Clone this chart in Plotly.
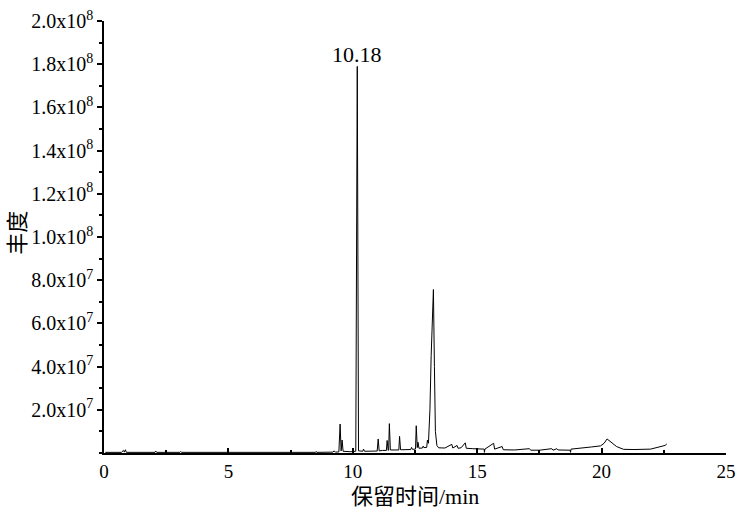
import plotly.graph_objects as go

# Retention time (min) and abundance (in units of 1e6 counts)
time_min = [0.05, 0.70, 0.78, 0.82, 0.86, 0.90, 2.05, 2.08, 2.12, 3.05, 3.08, 3.12,
            5.0, 8.5, 8.52, 8.56, 9.2, 9.25, 9.3, 9.44, 9.49, 9.53, 9.57, 9.61,
            9.9, 10.12, 10.18, 10.23, 10.4, 10.43, 10.47, 10.7, 10.98, 11.02, 11.06,
            11.2, 11.35, 11.38, 11.42, 11.44, 11.47, 11.51, 11.85, 11.88, 11.92,
            12.2, 12.33, 12.36, 12.40, 12.52, 12.55, 12.59, 12.62, 12.66, 12.8,
            12.83, 12.86, 12.97, 13.0, 13.04, 13.10, 13.15, 13.20, 13.24, 13.28,
            13.32, 13.38, 13.45, 13.7, 13.98, 14.02, 14.19, 14.23, 14.35, 14.52,
            14.56, 14.8, 14.99, 15.28, 15.29, 15.31, 15.66, 15.70, 16.0, 16.05,
            16.5, 17.1, 17.15, 17.5, 18.0, 18.05, 18.2, 18.25, 18.74, 18.75, 18.77,
            19.2, 19.6, 19.96, 20.1, 20.22, 20.4, 20.6, 20.88, 21.3, 21.97, 22.3,
            22.55, 22.62]
abundance_e6 = [0.3, 0.3, 1.2, 0.4, 1.5, 0.3, 0.3, 0.9, 0.3, 0.3, 0.7, 0.3,
                0.3, 0.3, 0.7, 0.3, 0.4, 1.0, 0.4, 0.5, 13.4, 1.0, 6.0, 0.8,
                0.6, 0.8, 179.0, 1.0, 0.8, 1.8, 0.8, 0.9, 0.9, 6.5, 1.0,
                1.2, 1.2, 5.8, 1.2, 1.3, 13.6, 1.4, 1.4, 7.7, 1.5,
                1.6, 1.6, 2.6, 1.7, 1.8, 12.6, 2.5, 5.0, 2.2, 2.3,
                3.2, 2.5, 2.6, 6.0, 4.5, 20.0, 45.0, 68.0, 75.7, 40.0,
                10.0, 3.5, 2.4, 2.3, 4.0, 2.3, 3.5, 2.2, 2.4, 4.7,
                2.2, 2.0, 1.8, 1.8, 0.3, 1.8, 4.5, 1.8, 3.0, 1.5,
                1.4, 2.0, 1.3, 1.3, 2.0, 1.3, 2.0, 1.4, 1.3, 0.3, 1.8,
                2.2, 2.8, 3.3, 4.5, 6.5, 4.8, 3.0, 1.7, 1.6, 1.8, 2.8,
                3.5, 4.2]

y_tickvals = [20, 40, 60, 80, 100, 120, 140, 160, 180, 200]
y_ticktext = ["2.0x10<sup>7</sup>", "4.0x10<sup>7</sup>", "6.0x10<sup>7</sup>",
              "8.0x10<sup>7</sup>", "1.0x10<sup>8</sup>", "1.2x10<sup>8</sup>",
              "1.4x10<sup>8</sup>", "1.6x10<sup>8</sup>", "1.8x10<sup>8</sup>",
              "2.0x10<sup>8</sup>"]
peak_label_time = 10.18
peak_label_value = 179.0
peak_label_text = "10.18"
x_title = "保留时间/min"
y_title = "丰度"

FONT = "'Liberation Serif', 'Times New Roman', 'Noto Sans CJK SC', serif"

fig = go.Figure()
fig.add_trace(go.Scatter(x=time_min, y=abundance_e6, mode="lines",
                         line=dict(color="black", width=1), showlegend=False,
                         hoverinfo="skip"))

fig.add_annotation(x=peak_label_time, y=peak_label_value, text=peak_label_text,
                   showarrow=False, yanchor="middle", yshift=12,
                   font=dict(family=FONT, size=22, color="black"))

# axis titles placed as paper annotations for precise positioning
fig.add_annotation(xref="paper", yref="paper", x=0.5, y=0, text=x_title,
                   showarrow=False, xanchor="center", yanchor="middle", yshift=-43,
                   font=dict(family=FONT, size=22, color="black"))
fig.add_annotation(xref="paper", yref="paper", x=0, y=0.51, text=y_title,
                   showarrow=False, xanchor="center", yanchor="middle", xshift=-86,
                   textangle=-90, font=dict(family=FONT, size=22, color="black"))

fig.update_layout(
    width=736, height=510,
    margin=dict(l=104, r=10, t=21, b=57),
    paper_bgcolor="white", plot_bgcolor="white",
    font=dict(family=FONT, color="black", size=18),
    xaxis=dict(range=[0, 25], showline=True, linecolor="black", linewidth=1.5,
               ticks="inside", ticklen=5, tickwidth=1.5, tickcolor="black",
               dtick=5, tick0=0, showgrid=False, zeroline=False, automargin=False,
               minor=dict(ticks="inside", ticklen=3, dtick=2.5, tickcolor="black",
                          showgrid=False),
               tickfont=dict(size=19)),
    yaxis=dict(range=[0, 200], showline=True, linecolor="black", linewidth=1.5,
               ticks="outside", ticklen=5, tickwidth=1.5, tickcolor="black",
               tickvals=y_tickvals, ticktext=y_ticktext, showgrid=False,
               zeroline=False, automargin=False,
               minor=dict(ticks="outside", ticklen=3, dtick=10, tickcolor="black",
                          showgrid=False),
               tickfont=dict(size=20)),
)

fig.write_html("out.html")
